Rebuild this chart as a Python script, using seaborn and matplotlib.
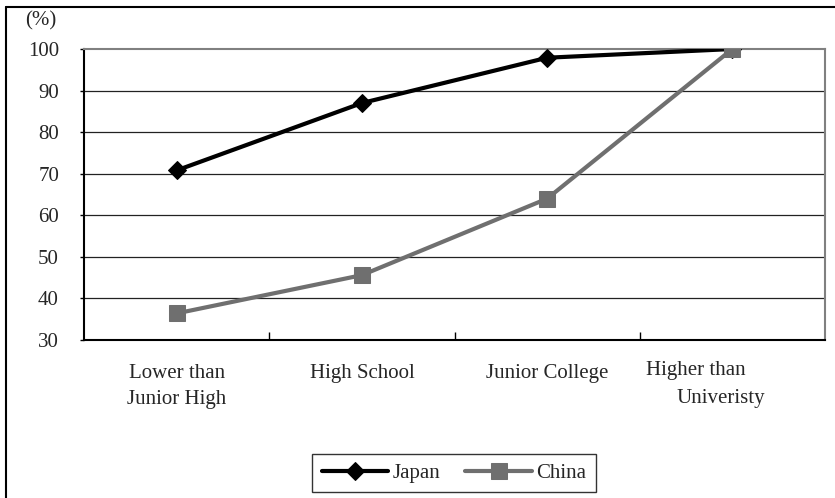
import matplotlib
matplotlib.use("Agg")
import matplotlib.pyplot as plt
from matplotlib.lines import Line2D
from matplotlib.transforms import blended_transform_factory
import seaborn as sns
import pandas as pd

categories = ["Lower than\nJunior High", "High School", "Junior College",
              "Higher than\nUniveristy"]
japan = [70.8, 87.0, 97.9, 100.0]
china = [36.4, 45.6, 64.0, 100.0]
series_names = ["Japan", "China"]
y_ticks = [30, 40, 50, 60, 70, 80, 90, 100]

sns.set_theme(style="white")
plt.rcParams["font.family"] = ["Liberation Serif", "DejaVu Serif"]

pos = [i + 0.5 for i in range(len(categories))]
df = pd.DataFrame({
    "x": pos * 2,
    "value": japan + china,
    "country": [series_names[0]] * len(japan) + [series_names[1]] * len(china),
})

fig = plt.figure(figsize=(8.35, 4.98), dpi=100)
ax = fig.add_axes([84 / 835, 1 - 340 / 498, 741 / 835, 291 / 498])

palette = {"Japan": "black", "China": "#6f6f6f"}
markers = {"Japan": "D", "China": "s"}
sizes = {"Japan": 9, "China": 12}
for name in series_names:
    sub = df[df["country"] == name]
    sns.lineplot(data=sub, x="x", y="value", ax=ax, color=palette[name],
                 marker=markers[name], markersize=sizes[name], linewidth=3,
                 markeredgecolor=palette[name], label=name, zorder=3)

fs = 15
ax.set_xlim(0, 4)
ax.set_ylim(30, 100)
ax.set_yticks(y_ticks)
ax.set_yticklabels([str(t) for t in y_ticks], fontsize=fs)
ax.tick_params(axis="y", length=3, width=1, color="black", pad=15, left=True)

# boundary ticks between categories, category names centred below each slot
ax.set_xticks([1, 2, 3])
ax.set_xticklabels([])
ax.set_xticks(pos[:-1], minor=True)
ax.set_xticklabels(categories[:-1], minor=True, fontsize=fs, linespacing=1.55)
ax.tick_params(axis="x", which="major", direction="in", length=6, width=1,
               color="black", bottom=True)
ax.tick_params(axis="x", which="minor", length=0, pad=17)
ax.set_xlabel("")
ax.set_ylabel("")

# last category label is staggered: first line left of centre, second line right
trans = blended_transform_factory(ax.transData, fig.transFigure)
first, second = categories[-1].split("\n")
ax.text(pos[-1] - 0.2, 1 - 370 / 498, first, transform=trans, fontsize=fs,
        ha="center", va="center")
ax.text(pos[-1] - 0.065, 1 - 399 / 498, second, transform=trans, fontsize=fs,
        ha="center", va="center")

for y in y_ticks[1:-1]:
    ax.axhline(y, color="#222222", linewidth=0.9, zorder=1)

ax.spines["left"].set_color("black")
ax.spines["bottom"].set_color("black")
ax.spines["left"].set_linewidth(1.5)
ax.spines["bottom"].set_linewidth(1.5)
ax.spines["top"].set_color("#808080")
ax.spines["right"].set_color("#808080")
ax.spines["top"].set_linewidth(1.5)
ax.spines["right"].set_linewidth(1.5)

fig.text(41 / 835, 1 - 21 / 498, "(%)", fontsize=fs, ha="center", va="center")

leg = ax.legend(loc="center", bbox_to_anchor=(454 / 835, 1 - 473 / 498),
                bbox_transform=fig.transFigure, ncol=2, frameon=True,
                fancybox=False, fontsize=fs, handlelength=3.2,
                columnspacing=1.2, handletextpad=0.2, borderpad=0.45)
leg.get_frame().set_edgecolor("black")
leg.get_frame().set_linewidth(1)

fig.add_artist(Line2D([6 / 835, 6 / 835], [0, 1 - 7 / 498], color="black",
                      linewidth=1.5, transform=fig.transFigure))
fig.add_artist(Line2D([6 / 835, 1], [1 - 7 / 498, 1 - 7 / 498], color="black",
                      linewidth=1.5, transform=fig.transFigure))

fig.savefig("out.png", dpi=100, facecolor="white")
